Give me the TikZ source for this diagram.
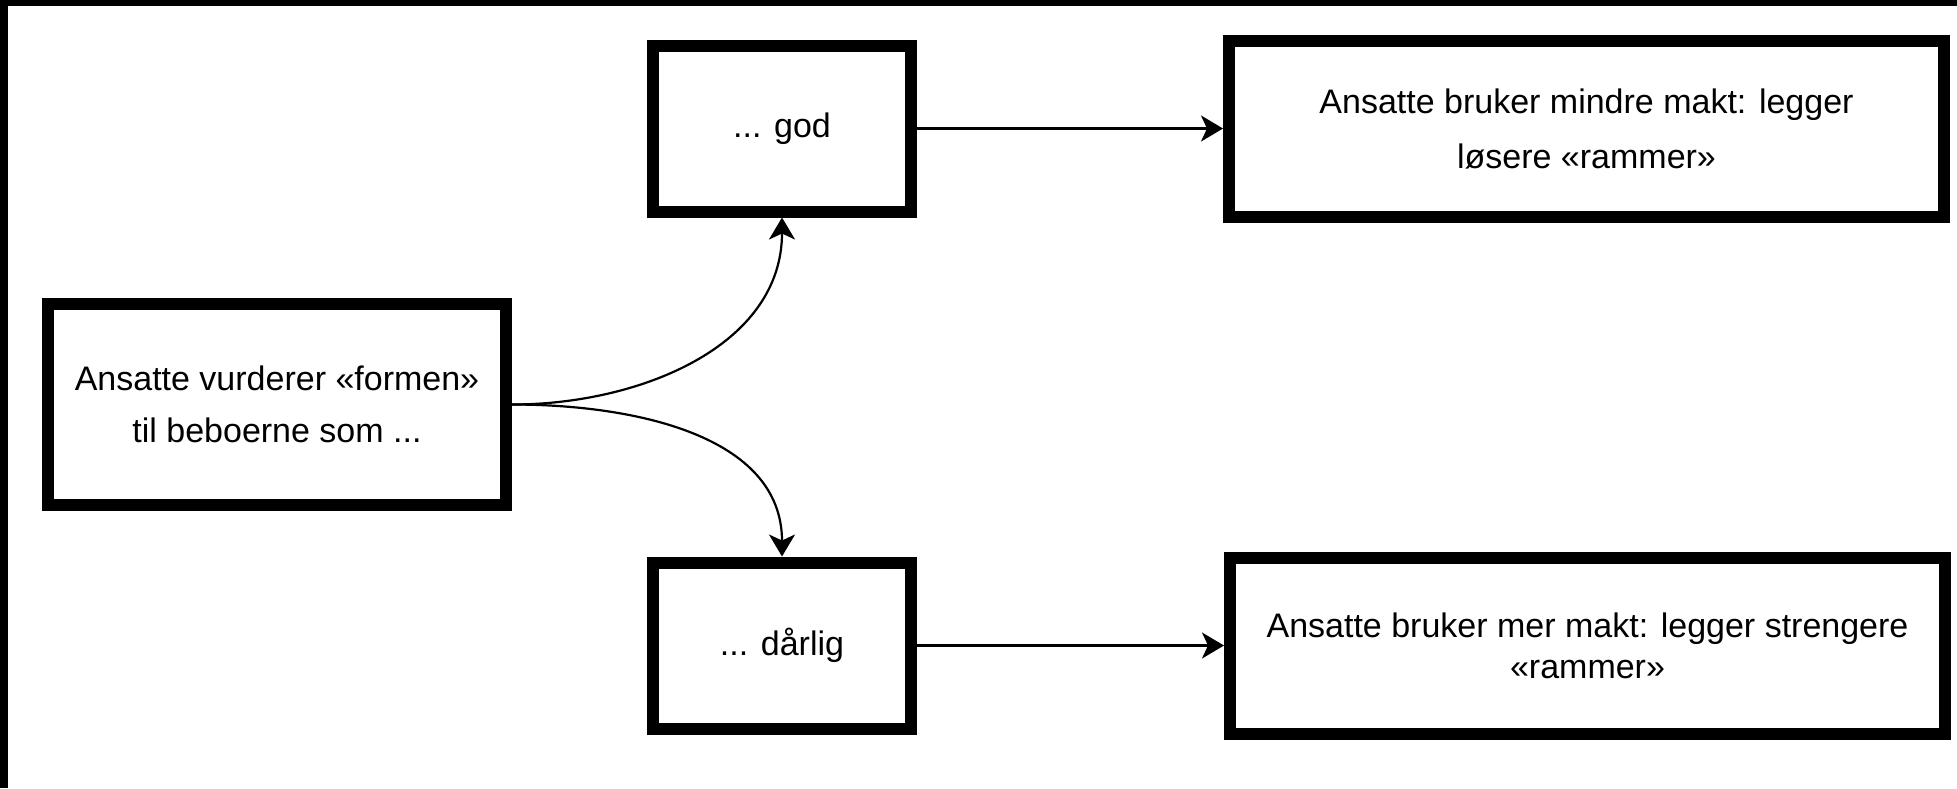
\documentclass[tikz,border=0pt]{standalone}
\usepackage{fontspec}
\setmainfont{Liberation Sans}
\usetikzlibrary{arrows.meta}

\begin{document}
\begin{tikzpicture}[x=0.5pt, y=-0.5pt, >={Stealth[length=11pt,width=13pt,inset=3pt]}, font=\fontsize{17}{20.5}\selectfont]
      \tikzstyle{box} = [draw, rectangle, line width=6pt, align=center, inner sep=0pt]
      \tikzstyle{con} = [->, line width=1.1pt]
      \useasboundingbox (0,0) rectangle (1957,788);
      % frame
      \fill (0,0) rectangle (1957,6);
      \fill (0,0) rectangle (8,788);

      \node [box, minimum width=229pt, minimum height=100.5pt] (form) at (277,404.5) {Ansatte vurderer «formen»\\[5.5pt]til beboerne som ...};
      \node [box, minimum width=129pt, minimum height=83pt] (god) at (782,128.5) {... god};
      \node [box, minimum width=129pt, minimum height=83pt] (darlig) at (782,645.5) {... dårlig};
      \node [box, minimum width=357.5pt, minimum height=88pt] (mindre) at (1586.5,128.5) {Ansatte bruker mindre makt: legger\\[7pt]løsere «rammer»};
      \node [box, minimum width=357.5pt, minimum height=88pt] (mer) at (1587.5,645.5) {Ansatte bruker mer makt: legger strengere\\«rammer»};

      \draw [con] (form.east) to[out=0, in=-90] (god.south);
      \draw [con] (form.east) to[out=0, in=90] (darlig.north);
      \foreach \a/\b in {god/mindre,darlig/mer} {
        \draw [con] (\a) -- (\b);
      }
\end{tikzpicture}
\end{document}
